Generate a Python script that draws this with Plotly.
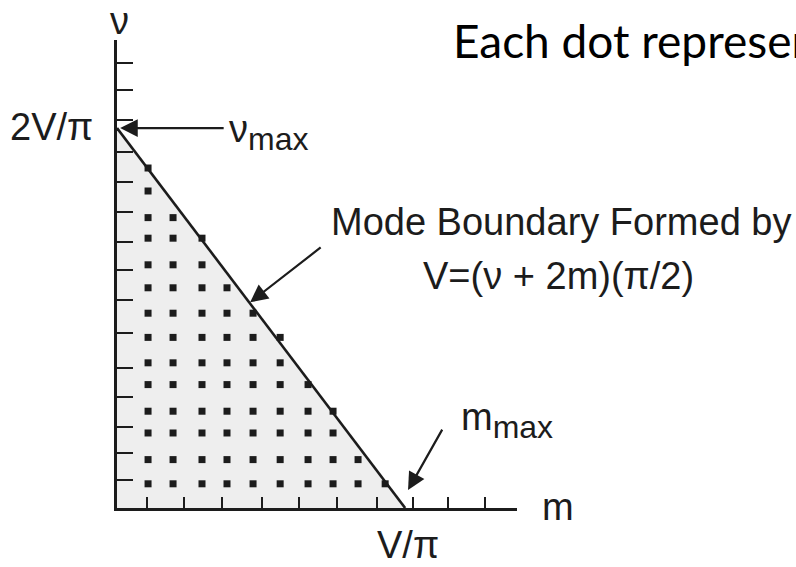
import plotly.graph_objects as go

# Mode-counting diagram: each lattice point (m, nu) under the boundary
# nu + 2m = 2V/pi is one guided mode.

# dot lattice (column positions along m, row positions along nu)
col_m = [1.18, 2.13, 3.23, 4.18, 5.17, 6.2, 7.26, 8.21, 9.16, 10.19]
row_nu = [1.0, 2.0, 3.1, 4.0, 5.1, 6.0, 7.05, 8.05, 9.1, 10.05, 11.15, 12.0, 13.1, 14.05]
dots_per_row = [10, 9, 8, 8, 7, 6, 6, 5, 4, 3, 3, 2, 1, 1]

# boundary intercepts: m_max = V/pi, nu_max = 2V/pi
m_max = 10.95
nu_max = 15.7

# hand-drawn axis tick positions
m_ticks = [1.14, 2.55, 3.99, 5.51, 6.92, 8.37, 9.89, 11.25, 12.59, 14.0, 15.19]
nu_ticks = [1.16, 2.27, 3.35, 4.59, 5.79, 7.23, 8.60, 9.83, 10.99, 12.23,
            13.47, 14.71, 16.03, 17.27, 18.39, 19.32]
m_axis_end = 15.2
nu_axis_end = 19.34

ink = "#1c1c1c"
label_font = dict(family="Liberation Sans, Arial, sans-serif", size=38, color=ink)
SUB = "<sub><span style='font-size:32px'>max</span></sub>"

dot_x, dot_y = [], []
for nu, n in zip(row_nu, dots_per_row):
    for m in col_m[:n]:
        dot_x.append(m)
        dot_y.append(nu)

fig = go.Figure()

# shaded mode region
fig.add_trace(go.Scatter(
    x=[0, 0, m_max, 0], y=[0, nu_max, 0, 0],
    mode="lines", fill="toself", fillcolor="#eeeeee",
    line=dict(width=0), hoverinfo="skip", showlegend=False,
))
# mode boundary line
fig.add_trace(go.Scatter(
    x=[0, m_max], y=[nu_max, 0], mode="lines",
    line=dict(color=ink, width=2.6), hoverinfo="skip", showlegend=False,
))
# modes
fig.add_trace(go.Scatter(
    x=dot_x, y=dot_y, mode="markers",
    marker=dict(symbol="square", size=7, color=ink),
    hoverinfo="skip", showlegend=False, cliponaxis=False,
))

W, H = 796, 567


def px(xp):
    return xp / W


def py(yp):
    return 1 - yp / H


annotations = [
    dict(text="\u03bd", x=px(119), y=py(21)),
    dict(text="2V/\u03c0", x=px(51), y=py(127)),
    dict(text="\u03bd" + SUB, x=px(227), y=py(133), xanchor="left"),
    dict(text="Mode Boundary Formed by", x=px(561), y=py(222)),
    dict(text="V=(\u03bd + 2m)(\u03c0/2)", x=px(558), y=py(276)),
    dict(text="m" + SUB, x=px(459), y=py(420), xanchor="left"),
    dict(text="m", x=px(558), y=py(507)),
    dict(text="V/\u03c0", x=px(408), y=py(545)),
]
ann_list = []
for a in annotations:
    base = dict(xref="paper", yref="paper", showarrow=False,
                xanchor="center", yanchor="middle", font=label_font)
    base.update(a)
    ann_list.append(base)

ann_list.append(dict(
    text="Each dot represents a mode", xref="paper", yref="paper",
    x=px(451), y=py(41), xanchor="left", yanchor="middle", showarrow=False,
    font=dict(family="Lato, Carlito, Calibri, sans-serif", size=46, color="#000000"),
))

# pointer arrows
arrow_style = dict(showarrow=True, text="", arrowhead=2, arrowsize=1.6,
                   arrowwidth=2.2, arrowcolor=ink, xref="x", yref="y")
ann_list.append(dict(x=0.12, y=nu_max, ax=105, ay=0, **arrow_style))
ann_list.append(dict(x=5.06, y=8.5, ax=72, ay=-56, **arrow_style))
ann_list.append(dict(x=11.06, y=0.74, ax=35, ay=-62, **arrow_style))

fig.update_layout(
    width=W, height=H,
    margin=dict(l=0, r=0, t=0, b=0),
    paper_bgcolor="white", plot_bgcolor="white",
    annotations=ann_list,
    xaxis=dict(
        domain=[117 / W, 517 / W], range=[0, m_axis_end],
        showgrid=False, zeroline=False, showline=True, linewidth=3, linecolor=ink,
        tickmode="array", tickvals=m_ticks, ticks="inside", ticklen=11,
        tickwidth=2.4, tickcolor=ink, showticklabels=False, fixedrange=True,
    ),
    yaxis=dict(
        domain=[(H - 508) / H, (H - 40) / H], range=[0, nu_axis_end],
        showgrid=False, zeroline=False, showline=True, linewidth=3, linecolor=ink,
        tickmode="array", tickvals=nu_ticks, ticks="inside", ticklen=16,
        tickwidth=2.4, tickcolor=ink, showticklabels=False, fixedrange=True,
    ),
)

fig.write_html("out.html", config={"displayModeBar": False})
